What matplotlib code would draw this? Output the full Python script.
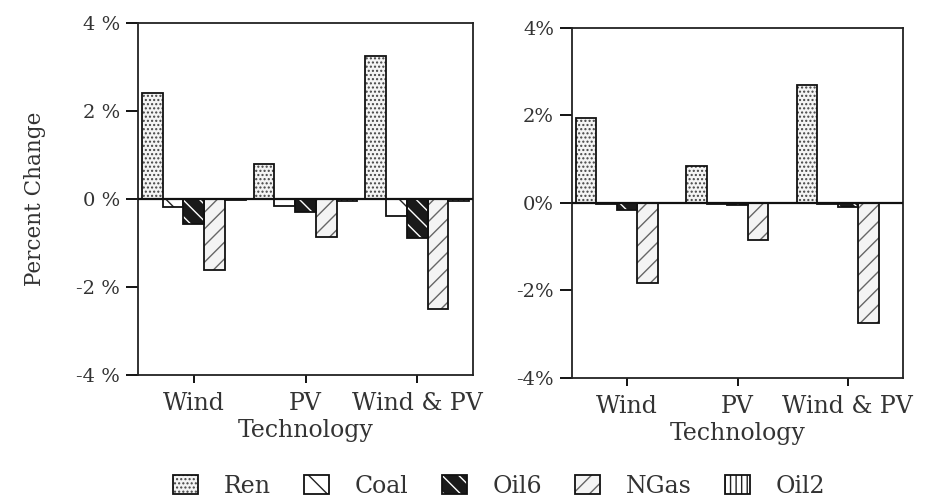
import numpy as np
import matplotlib
matplotlib.use("Agg")
import matplotlib.pyplot as plt
import matplotlib.patches as mpatches

# -------------------------
# Data (percent change by technology)
# -------------------------
technologies = ["Wind", "PV", "Wind & PV"]
fuels = ["Ren", "Coal", "Oil6", "NGas", "Oil2"]

ren_left = [2.4, 0.8, 3.25]
coal_left = [-0.18, -0.15, -0.38]
oil6_left = [-0.57, -0.30, -0.88]
ngas_left = [-1.62, -0.87, -2.50]
oil2_left = [-0.03, -0.05, -0.05]

ren_right = [1.95, 0.84, 2.70]
coal_right = [-0.02, -0.02, -0.02]
oil6_right = [-0.17, -0.05, -0.10]
ngas_right = [-1.82, -0.84, -2.75]
oil2_right = [0.0, 0.0, 0.0]

yticks = [-4, -2, 0, 2, 4]
ytick_labels_left = ["-4 %", "-2 %", "0 %", "2 %", "4 %"]
ytick_labels_right = ["-4%", "-2%", "0%", "2%", "4%"]

plt.rcParams['font.family'] = ['DejaVu Serif']
plt.rcParams['hatch.linewidth'] = 1.0

TXT = "#333333"

# hatch style per fuel: (facecolor, hatch, hatch colour)
styles = {
    "Ren": ("#f4f4f4", "....", "#444444"),
    "Coal": ("white", "\\", "#222222"),
    "Oil6": ("#1a1a1a", "\\\\", "white"),
    "NGas": ("#f4f4f4", "//", "#666666"),
    "Oil2": ("white", "|||", "#222222"),
}

fig = plt.figure(figsize=(9.3, 4.99), dpi=100)
ax1 = fig.add_axes([0.1484, 0.2485, 0.3602, 0.7054])
ax2 = fig.add_axes([0.6151, 0.2425, 0.3559, 0.7014])

x = np.arange(len(technologies))
width = 0.186


def draw_panel(ax, series, ylabels):
    for i, (name, vals) in enumerate(zip(fuels, series)):
        face, hatch, hcol = styles[name]
        pos = x + (i - 2) * width
        ax.bar(pos, vals, width, color=face, hatch=hatch, edgecolor=hcol,
               linewidth=0, zorder=2)
        ax.bar(pos, vals, width, fill=False, edgecolor="#111111",
               linewidth=1.3, zorder=3)
    ax.axhline(0, color="#111111", linewidth=1.6, zorder=4)
    ax.set_xlim(-0.5, 2.5)
    ax.set_ylim(-4, 4)
    ax.set_xticks(x)
    ax.set_xticklabels(technologies, fontsize=17, color=TXT)
    ax.set_yticks(yticks)
    ax.set_yticklabels(ylabels, fontsize=14, color=TXT)
    ax.tick_params(axis='y', direction='out', length=9, width=1.3, pad=4)
    ax.tick_params(axis='x', direction='out', length=6, width=1.3, pad=6)
    for sp in ax.spines.values():
        sp.set_linewidth(1.3)
        sp.set_color("#222222")
    ax.set_xlabel("Technology", fontsize=17, color=TXT, labelpad=3)


draw_panel(ax1, [ren_left, coal_left, oil6_left, ngas_left, oil2_left],
           ytick_labels_left)
draw_panel(ax2, [ren_right, coal_right, oil6_right, ngas_right, oil2_right],
           ytick_labels_right)

ax1.set_ylabel("Percent Change", fontsize=15.5, color=TXT, labelpad=22)

# legend with hatched, outlined squares
leg_handles = []
for name in fuels:
    face, hatch, hcol = styles[name]
    fill = mpatches.Patch(facecolor=face, hatch=hatch, edgecolor=hcol,
                          linewidth=0)
    outline = mpatches.Patch(fill=False, edgecolor="#111111", linewidth=1.3)
    leg_handles.append((fill, outline))
leg = fig.legend(leg_handles, fuels, loc='center', ncol=5,
                 bbox_to_anchor=(0.537, 0.025), frameon=False, fontsize=17,
                 handlelength=1.05, handleheight=0.85, handletextpad=1.1,
                 columnspacing=1.4, borderpad=0)
for t in leg.get_texts():
    t.set_color(TXT)

plt.savefig("out.png", dpi=100)
plt.close()
